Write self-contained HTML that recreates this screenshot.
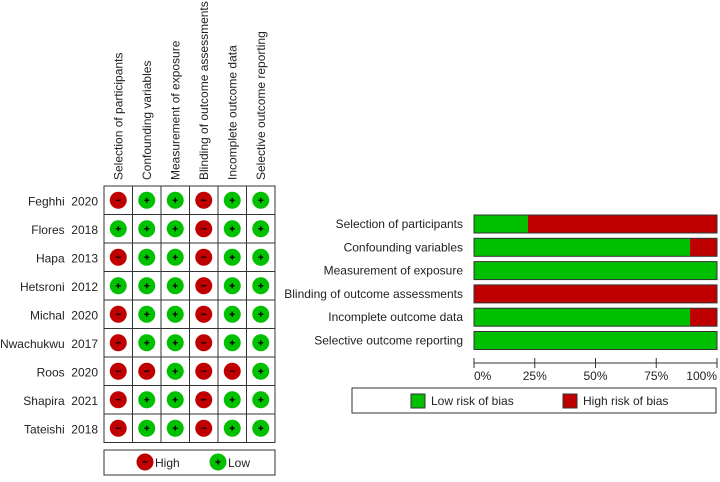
<!DOCTYPE html>
<html><head><meta charset="utf-8"><style>
body{margin:0;background:#fff;font-family:"Liberation Sans",sans-serif;}
svg text{font-family:"Liberation Sans",sans-serif;fill:#222;font-size:12px;}
</style></head><body>
<svg width="720" height="477">
<g id="left"></g>
<g id="right"></g>
</svg>
<script>
const studies=["Feghhi 2020","Flores 2018","Hapa 2013","Hetsroni 2012","Michal 2020","Nwachukwu 2017","Roos 2020","Shapira 2021","Tateishi 2018"];
const domains=["Selection of participants","Confounding variables","Measurement of exposure","Blinding of outcome assessments","Incomplete outcome data","Selective outcome reporting"];
const judgments=["-++-++","+++-++","-++-++","+++-++","-++-++","-++-++","--+--+","-++-++","-++-++"];
const lowPct=[22.2,88.9,100,0,88.9,100];
const ticks=[0,25,50,75,100];
const RED="#c00000",GREEN="#00c000",NS="http://www.w3.org/2000/svg";
function mk(p,t,a){const e=document.createElementNS(NS,t);for(const k in a)e.setAttribute(k,a[k]);p.appendChild(e);return e;}
const L=document.getElementById('left'),R=document.getElementById('right');
const gx0=104,gy0=186,cw=28.5,rh=28.5;
mk(L,'rect',{x:gx0,y:gy0,width:cw*6,height:rh*9,fill:'none',stroke:'#333','stroke-width':1});
for(let c=1;c<6;c++)mk(L,'line',{x1:gx0+c*cw,x2:gx0+c*cw,y1:gy0,y2:gy0+rh*9,stroke:'#333'});
for(let r=1;r<9;r++)mk(L,'line',{x1:gx0,x2:gx0+cw*6,y1:gy0+r*rh,y2:gy0+r*rh,stroke:'#333'});
domains.forEach((d,c)=>{const x=gx0+c*cw+cw/2+4;const t=mk(L,'text',{x:x,y:180,transform:`rotate(-90 ${x} 180)`,'font-size':'12.3'});t.textContent=d;

});
function dot(p,cx,cy,j){const g=mk(p,'g',{});


mk(g,'circle',{cx:cx,cy:cy,r:8.5,fill:j=='+'?GREEN:RED});
mk(g,'line',{x1:cx-2.5,x2:cx+2.5,y1:cy,y2:cy,stroke:'#000','stroke-width':1.3});
if(j=='+')mk(g,'line',{x1:cx,x2:cx,y1:cy-2.5,y2:cy+2.5,stroke:'#000','stroke-width':1.3});}
studies.forEach((s,r)=>{const cy=gy0+r*rh+rh/2;const parts=s.split(' ');
const t=mk(L,'text',{x:98,y:cy+5,'text-anchor':'end','font-size':'13'});t.textContent=parts[0]+'\u00a0\u00a0'+parts[1];


for(let c=0;c<6;c++)dot(L,gx0+c*cw+cw/2,cy,judgments[r][c]);});
mk(L,'rect',{x:104,y:450,width:171,height:25,fill:'none',stroke:'#333'});
dot(L,145,462,'-');let t=mk(L,'text',{x:155,y:467,'font-size':'13'});t.textContent='High';
dot(L,218,462,'+');t=mk(L,'text',{x:228,y:467,'font-size':'13'});t.textContent='Low';
const bx0=474,bx1=717,by0=215,bh=18,bs=23.3;
const xs=v=>bx0+(bx1-bx0)*v/100;
domains.forEach((d,i)=>{const y=by0+i*bs;
const g=mk(R,'rect',{x:bx0,y:y,width:xs(lowPct[i])-bx0,height:bh,fill:GREEN});


const h=mk(R,'rect',{x:xs(lowPct[i]),y:y,width:bx1-xs(lowPct[i]),height:bh,fill:RED});


mk(R,'rect',{x:bx0,y:y,width:bx1-bx0,height:bh,fill:'none',stroke:'#333'});
const l=mk(R,'text',{x:463,y:y+13,'text-anchor':'end'});l.textContent=d;

});
mk(R,'line',{x1:bx0,x2:bx1,y1:363,y2:363,stroke:'#333'});
ticks.forEach(v=>{mk(R,'line',{x1:xs(v),x2:xs(v),y1:358,y2:368,stroke:'#333'});
const l=mk(R,'text',{x:xs(v),y:380,'text-anchor':v==0?'start':v==100?'end':'middle'});l.textContent=v+'%';

});
mk(R,'rect',{x:352,y:388,width:364,height:25,fill:'none',stroke:'#333'});
mk(R,'rect',{x:411,y:394,width:14,height:14,fill:GREEN,stroke:'#333'});
t=mk(R,'text',{x:431,y:405});t.textContent='Low risk of bias';
mk(R,'rect',{x:563,y:394,width:14,height:14,fill:RED,stroke:'#333'});
t=mk(R,'text',{x:583,y:405});t.textContent='High risk of bias';
</script>
</body></html>
